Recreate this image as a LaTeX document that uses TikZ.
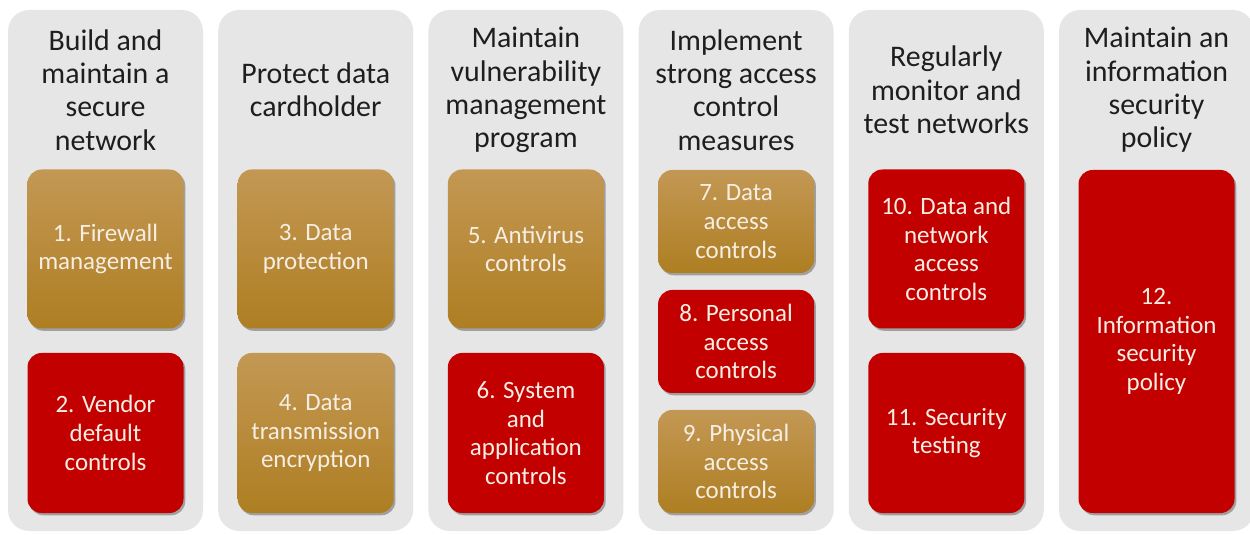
\documentclass[tikz,border=0pt]{standalone}
\usepackage{fontspec}
\setmainfont{Carlito}
\definecolor{panelgray}{RGB}{230, 230, 230}
\definecolor{titletext}{RGB}{30, 30, 30}
\definecolor{goldtop}{RGB}{195, 152, 84}
\definecolor{goldbot}{RGB}{174, 126, 34}
\definecolor{reqred}{RGB}{194, 0, 0}
\definecolor{boxtext}{RGB}{246, 238, 228}
\usetikzlibrary{shadows}

\tikzset{
  panel/.style={fill=panelgray, rounded corners=12pt, minimum width=3.9cm, minimum height=10.42cm},
  goaltitle/.style={text=titletext, align=center, font=\fontsize{17}{19}\selectfont},
  reqbox/.style={rounded corners=8pt, minimum width=3.12cm, text=boxtext, align=center,
    font=\fontsize{14.2}{16.3}\selectfont,
    drop shadow={shadow xshift=1pt, shadow yshift=-1.3pt, opacity=0.3, fill=black}},
  goldbox/.style={reqbox, top color=goldtop, bottom color=goldbot},
  redbox/.style={reqbox, fill=reqred}
}

\begin{document}
\begin{tikzpicture}
  \useasboundingbox (0, 0) rectangle (25, 10.68);
  \clip (0, 0) rectangle (25, 10.68);

  % Goal columns
  \node[panel] (panel1) at (2.11, 5.27) {};
  \node[panel] (panel2) at (6.314, 5.27) {};
  \node[panel] (panel3) at (10.518, 5.27) {};
  \node[panel] (panel4) at (14.722, 5.27) {};
  \node[panel] (panel5) at (18.926, 5.27) {};
  \node[panel] (panel6) at (23.13, 5.27) {};

  % Goal titles
  \node[goaltitle] (title1) at (2.11, 8.88) {Build and\\maintain a\\secure\\network};
  \node[goaltitle] (title2) at (6.314, 8.88) {Protect data\\cardholder};
  \node[goaltitle] (title3) at (10.518, 8.88) {Maintain\\vulnerability\\management\\program};
  \node[goaltitle] (title4) at (14.722, 8.88) {Implement\\strong access\\control\\measures};
  \node[goaltitle] (title5) at (18.926, 8.88) {Regularly\\monitor and\\test networks};
  \node[goaltitle] (title6) at (23.13, 8.88) {Maintain an\\information\\security\\policy};

  % Requirements
  \node[goldbox, minimum height=3.18cm] (req1) at (2.11, 5.70) {1. Firewall\\management};
  \node[redbox, minimum height=3.2cm] (req2) at (2.11, 2.02) {2. Vendor\\default\\controls};

  \node[goldbox, minimum height=3.18cm] (req3) at (6.314, 5.70) {3. Data\\protection};
  \node[goldbox, minimum height=3.2cm] (req4) at (6.314, 2.02) {4. Data\\transmission\\encryption};

  \node[goldbox, minimum height=3.18cm] (req5) at (10.518, 5.70) {5. Antivirus\\controls};
  \node[redbox, minimum height=3.2cm] (req6) at (10.518, 2.02) {6. System\\and\\application\\controls};

  \node[goldbox, minimum height=2.06cm] (req7) at (14.722, 6.25) {7. Data\\access\\controls};
  \node[redbox, minimum height=2.06cm] (req8) at (14.722, 3.85) {8. Personal\\access\\controls};
  \node[goldbox, minimum height=2.06cm] (req9) at (14.722, 1.45) {9. Physical\\access\\controls};

  \node[redbox, minimum height=3.18cm] (req10) at (18.926, 5.70) {10. Data and\\network\\access\\controls};
  \node[redbox, minimum height=3.2cm] (req11) at (18.926, 2.02) {11. Security\\testing};

  \node[redbox, minimum height=6.86cm] (req12) at (23.13, 3.85) {12.\\Information\\security\\policy};
\end{tikzpicture}
\end{document}
